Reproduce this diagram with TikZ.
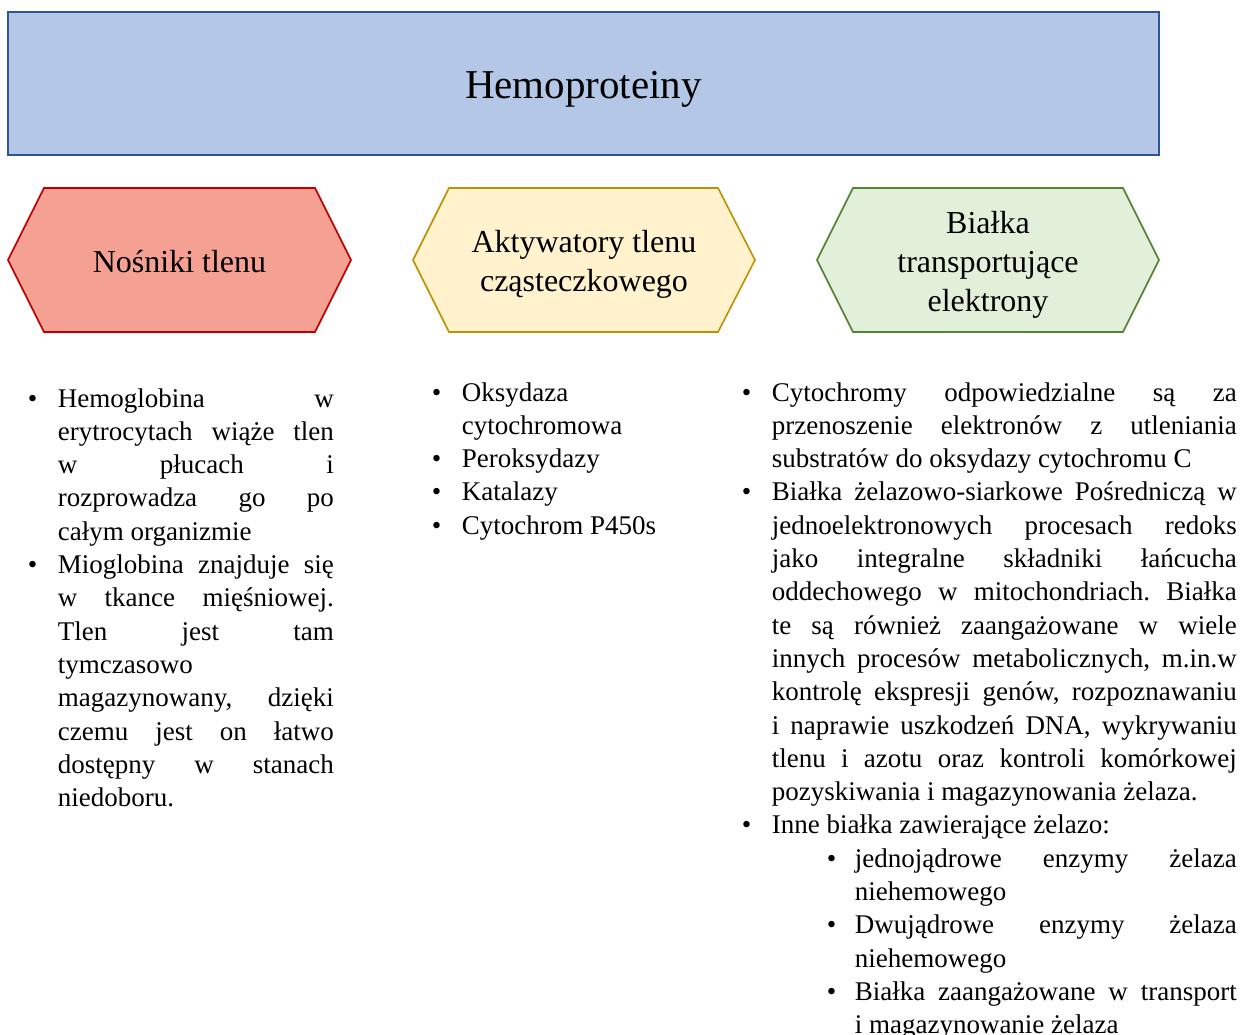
\documentclass[tikz,border=0pt]{standalone}
\usepackage{fontspec}
\setmainfont{Liberation Serif}
\usetikzlibrary{positioning}
\definecolor{hemoblue}{HTML}{B4C7E7}
\definecolor{hemoborder}{HTML}{2F5597}
\definecolor{salmon}{HTML}{F4A093}
\definecolor{darkred}{HTML}{C00000}
\definecolor{cream}{HTML}{FFF2CC}
\definecolor{ochre}{HTML}{BF9000}
\definecolor{mint}{HTML}{E2F0D9}
\definecolor{leaf}{HTML}{548235}

% line breaking: keep the given breaks, no hyphenation
\tolerance=10000
\hbadness=10000
\hyphenpenalty=10000
\exhyphenpenalty=10000
\frenchspacing

% bullet paragraphs
\newcommand{\punkt}[1]{\noindent\hangindent=30pt \hangafter=1 \makebox[30pt][l]{\textbullet}#1\par}
\newcommand{\podpunkt}[1]{\noindent\hangindent=113pt \hangafter=1 \hspace*{85pt}\makebox[28pt][l]{\textbullet}#1\par}

\begin{document}
\begin{tikzpicture}[x=1pt, y=-1pt, line width=1.6pt,
  hexlabel/.style={align=center, font=\fontsize{32}{39}\selectfont, inner sep=0pt},
  column/.style={anchor=base west, inner sep=0pt, font=\fontsize{27}{33.3}\selectfont}]
\useasboundingbox (0,0) rectangle (1242,1034);

%% Title
\node[draw=hemoborder, fill=hemoblue, minimum width=1151pt, minimum height=143pt,
  text height=39pt, text depth=9pt,
  font=\fontsize{41}{49}\selectfont] (tytul) at (583.5,83.5) {Hemoproteiny};

%% Hexagon 1: Nosniki tlenu
\filldraw[fill=salmon, draw=darkred] (8,260) -- (44,188) -- (315,188) -- (351,260) -- (315,332) -- (44,332) -- cycle;
\node[hexlabel] (nosniki) at (179.5,262) {Nośniki tlenu};

%% Hexagon 2: Aktywatory
\filldraw[fill=cream, draw=ochre] (413,260) -- (449,188) -- (718,188) -- (755,260) -- (718,332) -- (449,332) -- cycle;
\node[hexlabel] (aktywatory) at (584,264) {Aktywatory tlenu\\cząsteczkowego};

%% Hexagon 3: Bialka transportujace
\filldraw[fill=mint, draw=leaf] (817,260) -- (853,188) -- (1123,188) -- (1159,260) -- (1123,332) -- (853,332) -- cycle;
\node[hexlabel] (transport) at (988,264.5) {Białka\\transportujące\\elektrony};

%% Columns of text
\node[column, align=justify, text width=306pt] (nosniki-opis) at (27,407) {%
\punkt{Hemoglobina w\linebreak erytrocytach wiąże tlen\linebreak w płucach i\linebreak rozprowadza go po\linebreak całym organizmie}%
\punkt{Mioglobina znajduje się\linebreak w tkance mięśniowej.\linebreak Tlen jest tam\linebreak tymczasowo\newline magazynowany, dzięki\linebreak czemu jest on łatwo\linebreak dostępny w stanach\linebreak niedoboru.}};

\node[column, align=justify, text width=290pt] (aktywatory-opis) at (431,401) {%
\punkt{Oksydaza\newline cytochromowa}%
\punkt{Peroksydazy}%
\punkt{Katalazy}%
\punkt{Cytochrom P450s}};

\node[column, align=justify, text width=495pt] (transport-opis) at (741,401) {%
\punkt{Cytochromy odpowiedzialne są za\linebreak przenoszenie elektronów z utleniania\linebreak substratów do oksydazy cytochromu C}%
\punkt{Białka żelazowo-siarkowe Pośredniczą w\linebreak jednoelektronowych procesach redoks\linebreak jako integralne składniki łańcucha\linebreak oddechowego w mitochondriach. Białka\linebreak te są również zaangażowane w wiele\linebreak innych procesów metabolicznych, m.in.w\linebreak kontrolę ekspresji genów, rozpoznawaniu\linebreak i naprawie uszkodzeń DNA, wykrywaniu\linebreak tlenu i azotu oraz kontroli komórkowej\linebreak pozyskiwania i magazynowania żelaza.}%
\punkt{Inne białka zawierające żelazo:}%
\podpunkt{jednojądrowe enzymy żelaza\linebreak niehemowego}%
\podpunkt{Dwujądrowe enzymy żelaza\linebreak niehemowego}%
\podpunkt{Białka zaangażowane w transport\linebreak i magazynowanie żelaza}};

\end{tikzpicture}
\end{document}
